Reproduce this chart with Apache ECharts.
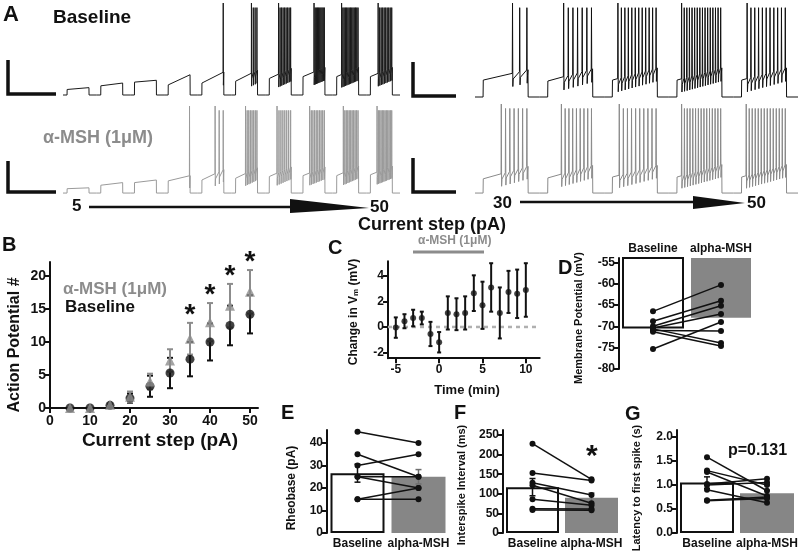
<!DOCTYPE html>
<html>
<head>
<meta charset="utf-8">
<script src="https://cdn.jsdelivr.net/npm/echarts@6/dist/echarts.min.js"></script>
<style>
  html, body { margin: 0; padding: 0; background: #fff; }
  #main { width: 800px; height: 555px; }
</style>
</head>
<body>
<div id="main"></div>
<script>
// ---- A: current-step sweeps (levels in % of spike height above rest)
var sweepsLeft = [5, 10, 15, 20, 25, 30, 35, 40, 45, 50];
var sweepsRight = [30, 35, 40, 45, 50];

var blOn = [6, 10, 14, 11, 13, 15, 18, 20, 20, 20];
var blOff = [8, 13, 16, 22, 25, 27, 29, 30, 30, 30];
var blSpikes = [0, 0, 0, 0, 1, 4, 9, 10, 14, 10];
var blFirst = [0, 0, 0, 0, 0.97, 0.72, 0.42, 0.5, 0.22, 0.35];

var mshOn = [5, 9, 12, 14, 15, 17, 19, 20, 20, 21];
var mshOff = [6, 12, 15, 20, 27, 29, 30, 30, 31, 31];
var mshSpikes = [0, 0, 0, 1, 3, 8, 8, 10, 11, 12];
var mshFirst = [0, 0, 0, 0.97, 0.6, 0.45, 0.35, 0.3, 0.3, 0.3];

var blROn = [18, 17, 18, 18, 18];
var blROff = [29, 30, 31, 31, 31];
var blRSpikes = [3, 7, 12, 16, 11];
var blRFirst = [0.65, 0.35, 0.12, 0.1, 0.12];

var mshROn = [16, 17, 18, 18, 18];
var mshROff = [30, 31, 31, 32, 32];
var mshRSpikes = [7, 9, 10, 15, 14];
var mshRFirst = [0.4, 0.3, 0.15, 0.1, 0.1];

// ---- B: action potential number vs current step
var currentSteps = [5, 10, 15, 20, 25, 30, 35, 40, 45, 50];
var apBaseline = [0, 0, 0.4, 1.5, 3.3, 5.3, 7.4, 10.0, 12.5, 14.2];
var apBaselineSem = [0, 0, 0.2, 0.7, 1.6, 2.3, 2.6, 2.8, 3.0, 2.9];
var apMsh = [0, 0, 0.5, 1.7, 4.0, 7.2, 10.5, 13.0, 15.5, 17.6];
var apMshSem = [0, 0, 0.2, 0.8, 1.2, 1.7, 2.4, 2.9, 3.3, 3.3];
var sigSteps = [35, 40, 45, 50];

// ---- C: change in Vm over time
var timeMin = [-5, -4, -3, -2, -1, 0, 1, 2, 3, 4, 5, 6, 7, 8, 9, 10];
var dVm = [-0.05, 0.45, 0.7, 0.7, -0.55, -1.2, 1.1, 1.0, 1.1, 2.65, 1.7, 3.1, 1.1, 2.75, 2.6, 2.9];
var dVmSem = [0.8, 0.55, 0.65, 0.5, 0.95, 0.8, 1.3, 1.25, 1.3, 1.4, 1.85, 1.9, 2.0, 1.65, 1.9, 2.1];
var timeRange = [-5.9, 11.6];

// ---- D-G: paired cells
var groups = ['Baseline', 'alpha-MSH'];
var vmMeans = [-70.3, -68.0];
var vmBaseline = [-66.5, -68.8, -70.0, -70.4, -75.3, -71.0, -70.6, -71.3];
var vmMsh = [-60.3, -64.0, -65.2, -67.1, -69.0, -71.1, -73.9, -74.6];

var rheoMeans = [26.6, 25.0];
var rheoSem = [4.0, 3.2];
var rheoBaseline = [45, 35, 30, 25, 25, 15, 15];
var rheoMsh = [40, 25, 35, 20, 25, 20, 15];

var isiMeans = [117, 90];
var isiSem = [22, 12];
var isiBaseline = [228, 153, 128, 122, 86, 62, 59];
var isiMsh = [137, 134, 97, 76, 71, 61, 58];

var latMeans = [1.05, 0.83];
var latSem = [0.12, 0.06];
var latBaseline = [1.58, 1.30, 1.27, 1.02, 1.00, 0.90, 0.68, 0.67];
var latMsh = [0.88, 1.00, 0.77, 1.13, 1.05, 0.63, 0.75, 0.72];

var FONT = 'Liberation Sans, Arial, sans-serif';
var GREY = '#868686';

// sweep waveform: rest, step jump, ramp, spikes, back to rest
function buildTrace(on, off, spikes, first, stepA, stepB) {
  var pts = [];
  var len = stepB - stepA;
  for (var i = 0; i < on.length; i++) {
    var s0 = i + stepA, s1 = i + stepB;
    pts.push([i, 0]);
    pts.push([s0, 0]);
    pts.push([s0 + 0.003, on[i]]);
    var n = spikes[i];
    if (n > 0) {
      var ts = s0 + len * first[i], te = s1 - len * 0.03;
      if (ts > te) ts = te;
      var gap = n > 1 ? (te - ts) / (n - 1) : 0;
      for (var k = 0; k < n; k++) {
        var t = ts + gap * k;
        var lvl = on[i] + (off[i] - on[i]) * (t - s0) / len;
        pts.push([t, lvl]);
        pts.push([t + 0.004, k === 0 ? 100 : 95]);
        pts.push([t + 0.009, lvl - 14]);
        pts.push([t + 0.014, lvl - 6]);
      }
    }
    pts.push([s1, off[i]]);
    pts.push([s1 + 0.003, 0]);
  }
  pts.push([on.length, 0]);
  return pts;
}

function errRender(color, cap, width) {
  return function (params, api) {
    var x = api.value(0);
    var p1 = api.coord([x, api.value(1)]);
    var p2 = api.coord([x, api.value(2)]);
    var st = { stroke: color, lineWidth: width };
    return {
      type: 'group',
      children: [
        { type: 'line', shape: { x1: p1[0], y1: p1[1], x2: p2[0], y2: p2[1] }, style: st },
        { type: 'line', shape: { x1: p1[0] - cap, y1: p1[1], x2: p1[0] + cap, y2: p1[1] }, style: st },
        { type: 'line', shape: { x1: p2[0] - cap, y1: p2[1], x2: p2[0] + cap, y2: p2[1] }, style: st }
      ]
    };
  };
}

function errData(xs, m, s) {
  return m.map(function (v, i) { return [xs[i], v - s[i], v + s[i]]; });
}

function valueAxis(idx, min, max, ticks, fontSize, fmt) {
  return {
    type: 'value', gridIndex: idx, min: min, max: max,
    axisLine: { show: true, onZero: false, lineStyle: { color: '#111', width: 2 } },
    axisTick: { show: true, length: 5, lineStyle: { color: '#111', width: 2 }, customValues: ticks },
    axisLabel: { color: '#111', fontWeight: 'bold', fontSize: fontSize, fontFamily: FONT, margin: 4,
      customValues: ticks, formatter: fmt },
    splitLine: { show: false }
  };
}

function catAxis(idx, pos) {
  return {
    type: 'category', gridIndex: idx, data: groups, position: pos,
    axisLine: { show: false, onZero: false }, axisTick: { show: false },
    axisLabel: { color: '#111', fontWeight: 'bold', fontSize: 12,
      fontFamily: FONT, margin: pos === 'top' ? 3 : 5, interval: 0 }
  };
}

function pairSeries(b, a, idx) {
  return b.map(function (v, i) {
    return {
      type: 'line', xAxisIndex: idx, yAxisIndex: idx, data: [v, a[i]],
      symbol: 'circle', symbolSize: 6, z: 6,
      lineStyle: { color: '#111', width: 1.5 }, itemStyle: { color: '#111' }
    };
  });
}

function barSeries(m, idx, w) {
  return {
    type: 'bar', xAxisIndex: idx, yAxisIndex: idx, barWidth: w, z: 2,
    data: [
      { value: m[0], itemStyle: { color: '#fff', borderColor: '#111', borderWidth: 2 } },
      { value: m[1], itemStyle: { color: GREY } }
    ]
  };
}

function hiddenValue(idx, min, max) {
  return { type: 'value', gridIndex: idx, min: min, max: max, show: false };
}

var grids = [
  { left: 63, top: 3, width: 337, height: 96.6 },
  { left: 63, top: 106, width: 337, height: 91.4 },
  { left: 475, top: 3, width: 323, height: 98.7 },
  { left: 475, top: 104, width: 323, height: 93.5 },
  { left: 50, top: 262, width: 208, height: 146 },
  { left: 388, top: 261.3, width: 151.7, height: 96.9 },
  { left: 619, top: 258, width: 136, height: 111 },
  { left: 327, top: 430, width: 122, height: 103 },
  { left: 503, top: 430, width: 118, height: 103 },
  { left: 677, top: 430, width: 120, height: 103 }
];
grids.forEach(function (g) { g.outerBoundsMode = 'none'; g.containLabel = false; });

var xAxes = [
  hiddenValue(0, 0, sweepsLeft.length),
  hiddenValue(1, 0, sweepsLeft.length),
  hiddenValue(2, 0, sweepsRight.length),
  hiddenValue(3, 0, sweepsRight.length),
  valueAxis(4, 0, 52, [0, 10, 20, 30, 40, 50], 14),
  valueAxis(5, timeRange[0], timeRange[1], [-5, 0, 5, 10], 12),
  catAxis(6, 'top'),
  catAxis(7, 'bottom'),
  catAxis(8, 'bottom'),
  catAxis(9, 'bottom')
];
xAxes[4].axisLabel.margin = 6;
xAxes[5].axisLabel.margin = 5;

var yAxes = [
  hiddenValue(0, -5, 100),
  hiddenValue(1, -5, 100),
  hiddenValue(2, -5, 100),
  hiddenValue(3, -5, 100),
  valueAxis(4, 0, 22.12, [0, 5, 10, 15, 20], 14),
  valueAxis(5, -2.45, 5.15, [-2, 0, 2, 4], 12),
  valueAxis(6, -80, -54, [-80, -75, -70, -65, -60, -55], 12),
  valueAxis(7, 0, 45.8, [0, 10, 20, 30, 40], 12),
  valueAxis(8, 0, 262.8, [0, 50, 100, 150, 200, 250], 12),
  valueAxis(9, 0, 2.146, [0, 0.5, 1, 1.5, 2], 12, function (v) { return v.toFixed(1); })
];

function traceSeries(idx, data, color) {
  return {
    type: 'line', xAxisIndex: idx, yAxisIndex: idx, data: data, showSymbol: false,
    symbol: 'none', lineStyle: { color: color, width: 1 }, silent: true
  };
}

var series = [
  traceSeries(0, buildTrace(blOn, blOff, blSpikes, blFirst, 0.12, 0.77), '#1a1a1a'),
  traceSeries(1, buildTrace(mshOn, mshOff, mshSpikes, mshFirst, 0.12, 0.77), '#9a9a9a'),
  traceSeries(2, buildTrace(blROn, blROff, blRSpikes, blRFirst, 0.125, 0.82), '#111'),
  traceSeries(3, buildTrace(mshROn, mshROff, mshRSpikes, mshRFirst, 0.125, 0.82), '#8a8a8a'),

  // B
  { type: 'custom', xAxisIndex: 4, yAxisIndex: 4, renderItem: errRender('#111', 3, 2),
    data: errData(currentSteps, apBaseline, apBaselineSem), encode: { x: 0, y: [1, 2] }, z: 3 },
  { type: 'custom', xAxisIndex: 4, yAxisIndex: 4, renderItem: errRender('#8c8c8c', 3, 2),
    data: errData(currentSteps, apMsh, apMshSem), encode: { x: 0, y: [1, 2] }, z: 4 },
  { type: 'scatter', xAxisIndex: 4, yAxisIndex: 4, symbol: 'circle', symbolSize: 9, z: 5,
    itemStyle: { color: '#111' },
    data: currentSteps.map(function (s, i) { return [s, apBaseline[i]]; }) },
  { type: 'scatter', xAxisIndex: 4, yAxisIndex: 4, symbol: 'triangle', symbolSize: 10, z: 6,
    itemStyle: { color: '#8c8c8c' },
    data: currentSteps.map(function (s, i) { return [s, apMsh[i]]; }) },
  // significance stars sit just above the alpha-MSH error caps
  { type: 'custom', xAxisIndex: 4, yAxisIndex: 4, z: 7, clip: false,
    data: sigSteps.map(function (s) {
      var i = currentSteps.indexOf(s);
      return [s, apMsh[i] + apMshSem[i]];
    }),
    renderItem: function (params, api) {
      var p = api.coord([api.value(0), api.value(1)]);
      return { type: 'text', x: p[0], y: p[1] + 6,
        style: { text: '*', fontSize: 28, fontWeight: 'bold', fontFamily: FONT, fill: '#111',
          align: 'center', verticalAlign: 'bottom' } };
    } },

  // C
  { type: 'line', xAxisIndex: 5, yAxisIndex: 5, z: 1, symbol: 'none', silent: true,
    data: [[timeRange[0], 0], [timeRange[1], 0]],
    lineStyle: { color: '#b0b0b0', width: 2.5, type: [4, 4] } },
  { type: 'custom', xAxisIndex: 5, yAxisIndex: 5, renderItem: errRender('#111', 2, 2),
    data: errData(timeMin, dVm, dVmSem), encode: { x: 0, y: [1, 2] }, z: 4 },
  { type: 'scatter', xAxisIndex: 5, yAxisIndex: 5, symbol: 'circle', symbolSize: 6, z: 5,
    itemStyle: { color: '#111' },
    data: timeMin.map(function (t, i) { return [t, dVm[i]]; }) },

  // D bars hang from the top of the axis
  { type: 'custom', xAxisIndex: 6, yAxisIndex: 6, z: 2,
    data: vmMeans.map(function (v, i) { return [i, v]; }),
    renderItem: function (params, api) {
      var i = api.value(0);
      var top = api.coord([i, -54]);
      var bot = api.coord([i, api.value(1)]);
      var w = 60;
      return {
        type: 'rect',
        shape: { x: top[0] - w / 2, y: top[1], width: w, height: bot[1] - top[1] },
        style: i === 0 ? { fill: '#fff', stroke: '#111', lineWidth: 2 } : { fill: GREY }
      };
    } },

  // E F G bars
  barSeries(rheoMeans, 7, 54),
  barSeries(isiMeans, 8, 53),
  barSeries(latMeans, 9, 54)
];

[[rheoMeans, rheoSem, 7], [isiMeans, isiSem, 8], [latMeans, latSem, 9]].forEach(function (r) {
  series.push({ type: 'custom', xAxisIndex: r[2], yAxisIndex: r[2], z: 3,
    renderItem: errRender('#111', 3, 1.5),
    data: [[0, r[0][0] - r[1][0], r[0][0] + r[1][0]]], encode: { x: 0, y: [1, 2] } });
  series.push({ type: 'custom', xAxisIndex: r[2], yAxisIndex: r[2], z: 3,
    renderItem: errRender('#6e6e6e', 3, 1.5),
    data: [[1, r[0][1] - r[1][1], r[0][1] + r[1][1]]], encode: { x: 0, y: [1, 2] } });
});

series = series
  .concat(pairSeries(vmBaseline, vmMsh, 6))
  .concat(pairSeries(rheoBaseline, rheoMsh, 7))
  .concat(pairSeries(isiBaseline, isiMsh, 8))
  .concat(pairSeries(latBaseline, latMsh, 9));

function txt(x, y, text, size, color, extra) {
  var s = { text: text, x: x, y: y, fontSize: size, fontWeight: 'bold', fontFamily: FONT,
    fill: color || '#111', align: 'left', verticalAlign: 'middle' };
  if (extra) Object.keys(extra).forEach(function (k) { s[k] = extra[k]; });
  return { type: 'text', style: s, z: 20 };
}

function vtxt(x, y, text, size, rich) {
  return { type: 'text', x: x, y: y, rotation: Math.PI / 2, z: 20,
    style: { text: text, fontSize: size, fontWeight: 'bold', fontFamily: FONT, fill: '#111',
      align: 'center', verticalAlign: 'middle', rich: rich } };
}

function scaleBar(x, y1, y2, x2) {
  return { type: 'polyline', z: 20, shape: { points: [[x, y1], [x, y2], [x2, y2]] },
    style: { stroke: '#111', lineWidth: 3.5, fill: null } };
}

var graphics = [
  txt(3, 15, 'A', 22),
  txt(53, 18, 'Baseline', 19),
  txt(43, 138, 'α-MSH (1μM)', 18, '#8c8c8c'),
  scaleBar(8, 60, 94, 56),
  scaleBar(8, 161, 192, 56),
  scaleBar(413, 62, 96, 456),
  scaleBar(413, 158, 192, 456),

  txt(72, 206, '5', 17),
  { type: 'line', z: 20, shape: { x1: 89, y1: 207, x2: 292, y2: 207 }, style: { stroke: '#111', lineWidth: 2.5 } },
  { type: 'polygon', z: 20, shape: { points: [[290, 199], [369, 208], [290, 213]] }, style: { fill: '#111' } },
  txt(370, 207, '50', 17),
  txt(493, 203, '30', 17),
  { type: 'line', z: 20, shape: { x1: 520, y1: 202, x2: 695, y2: 202 }, style: { stroke: '#111', lineWidth: 2.5 } },
  { type: 'polygon', z: 20, shape: { points: [[693, 196], [745, 203], [693, 209]] }, style: { fill: '#111' } },
  txt(747, 203, '50', 17),
  txt(358, 225, 'Current step (pA)', 18),

  txt(2, 245, 'B', 20),
  txt(63, 289, 'α-MSH (1μM)', 17, '#8c8c8c'),
  txt(65, 307, 'Baseline', 17),
  vtxt(15, 345, 'Action Potential #', 16),
  txt(160, 441, 'Current step (pA)', 19, '#111', { align: 'center' }),

  txt(328, 248, 'C', 20),
  txt(418, 241, 'α-MSH (1μM)', 12, '#8c8c8c'),
  { type: 'line', z: 20, shape: { x1: 413, y1: 252, x2: 484, y2: 252 }, style: { stroke: '#8c8c8c', lineWidth: 3 } },
  vtxt(354, 312, '{a|Change in V}{s|m}{a| (mV)}', 12,
    { a: { fontSize: 12, fontWeight: 'bold', fontFamily: FONT, fill: '#111' },
      s: { fontSize: 8, fontWeight: 'bold', fontFamily: FONT, fill: '#111', verticalAlign: 'bottom' } }),
  txt(467, 390, 'Time (min)', 13, '#111', { align: 'center' }),

  txt(558, 268, 'D', 20),
  vtxt(579, 318, 'Membrane Potential (mV)', 11),

  txt(281, 413, 'E', 20),
  vtxt(292, 488, 'Rheobase (pA)', 12),
  txt(454, 413, 'F', 20),
  vtxt(462, 485, 'Interspike Interval (ms)', 11),
  txt(586, 457, '*', 30),
  txt(625, 414, 'G', 20),
  vtxt(637, 488, 'Latency to first spike (s)', 11),
  txt(728, 451, 'p=0.131', 16)
];

var chart = echarts.init(document.getElementById('main'));
chart.setOption({
  animation: false,
  backgroundColor: '#fff',
  textStyle: { fontFamily: FONT },
  grid: grids,
  xAxis: xAxes,
  yAxis: yAxes,
  series: series,
  graphic: graphics
});
</script>
</body>
</html>
